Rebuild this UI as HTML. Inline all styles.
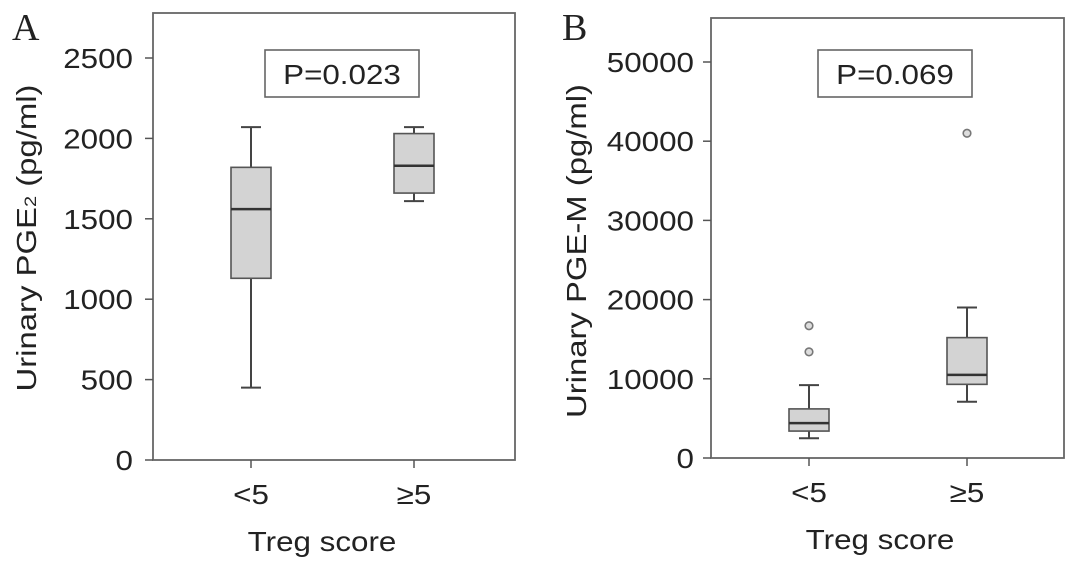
<!DOCTYPE html>
<html><head><meta charset="utf-8"><style>
html,body{margin:0;padding:0;background:#fff;}
svg{display:block;font-family:"Liberation Sans",Arial,sans-serif;}
</style></head><body>
<svg id="chart" width="1078" height="570" viewBox="0 0 1078 570"></svg>
<script>
const categories = ["<5", "\u22655"];
const aMin = [450, 1610];
const aQ1 = [1130, 1660];
const aMed = [1560, 1830];
const aQ3 = [1820, 2030];
const aMax = [2070, 2070];
const aOutliers = [[], []];
const aTicks = [0, 500, 1000, 1500, 2000, 2500];
const bMin = [2500, 7100];
const bQ1 = [3400, 9300];
const bMed = [4400, 10500];
const bQ3 = [6200, 15200];
const bMax = [9200, 19000];
const bOutliers = [[13400, 16700], [41000]];
const bTicks = [0, 10000, 20000, 30000, 40000, 50000];

const NS = "http://www.w3.org/2000/svg";
const svg = document.getElementById("chart");
function mk(tag, attrs, parent, text) {
  const e = document.createElementNS(NS, tag);
  for (const k in attrs) e.setAttribute(k, attrs[k]);
  if (text !== undefined) e.textContent = text;
  (parent || svg).appendChild(e);
  return e;
}
const SX = 1.12;
function stext(parent, x, y, anchor, size, str) {
  return mk("text", {x: 0, y: 0, "text-anchor": anchor, "font-size": size, fill: "#222", transform: "translate(" + x + "," + y + ") scale(" + SX + ",1)"}, parent, str);
}

function panel(cfg) {
  const g = mk("g", {});
  
  
  const y = v => cfg.y0 - v / cfg.vmax * (cfg.y0 - cfg.yTopTick);
  const x = i => cfg.cx[i];
  const fr = mk("rect", {x: cfg.x0, y: cfg.top, width: cfg.x1 - cfg.x0, height: cfg.y0 - cfg.top, fill: "none", stroke: "#666", "stroke-width": 1.8}, g);
  
  
  cfg.ticks.forEach(t => {
    const tl = mk("line", {x1: cfg.x0 - 8, x2: cfg.x0, y1: y(t), y2: y(t), stroke: "#555", "stroke-width": 1.5}, g);
    
    
    const tx = stext(g, cfg.labelRight, y(t) + 10, "end", 28, String(t));
    
    
  });
  categories.forEach((c, i) => {
    const tl = mk("line", {x1: x(i), x2: x(i), y1: cfg.y0, y2: cfg.y0 + 8, stroke: "#555", "stroke-width": 1.5}, g);
    
    
    const tx = stext(g, x(i), cfg.y0 + 44, "middle", 28, c);
    
    
    const hw = cfg.bw / 2, cw = cfg.capw / 2;
    const wl = mk("line", {x1: x(i), x2: x(i), y1: y(cfg.max[i]), y2: y(cfg.q3[i]), stroke: "#444", "stroke-width": 2}, g);
    
    
    const wl2 = mk("line", {x1: x(i), x2: x(i), y1: y(cfg.q1[i]), y2: y(cfg.min[i]), stroke: "#444", "stroke-width": 2}, g);
    
    
    const c1 = mk("line", {x1: x(i) - cw, x2: x(i) + cw, y1: y(cfg.max[i]), y2: y(cfg.max[i]), stroke: "#444", "stroke-width": 2}, g);
    
    
    const c2 = mk("line", {x1: x(i) - cw, x2: x(i) + cw, y1: y(cfg.min[i]), y2: y(cfg.min[i]), stroke: "#444", "stroke-width": 2}, g);
    
    
    const b = mk("rect", {x: x(i) - hw, y: y(cfg.q3[i]), width: cfg.bw, height: y(cfg.q1[i]) - y(cfg.q3[i]), fill: "#d3d3d3", stroke: "#555", "stroke-width": 1.6}, g);
    
    
    const m = mk("line", {x1: x(i) - hw, x2: x(i) + hw, y1: y(cfg.med[i]), y2: y(cfg.med[i]), stroke: "#333", "stroke-width": 2.5}, g);
    
    
    cfg.out[i].forEach(v => {
      const o = mk("circle", {cx: x(i), cy: y(v), r: 3.8, fill: "#ddd", stroke: "#777", "stroke-width": 1.6}, g);
      
      
    });
  });
  const pb = mk("rect", {x: cfg.px, y: 50, width: 154, height: 47, fill: "#fff", stroke: "#666", "stroke-width": 1.6}, g);
  
  
  const pt = stext(g, cfg.px + 77, 84, "middle", 28, cfg.ptext);
  
  
  const xt = stext(g, cfg.xtx, cfg.y0 + 91, "middle", 28, "Treg score");
  
  
  const yt = mk("text", {x: 0, y: 0, "text-anchor": "middle", "font-size": 28, fill: "#222", textLength: cfg.ylen, lengthAdjust: "spacingAndGlyphs", transform: "translate(" + cfg.ytx + "," + cfg.yty + ") rotate(-90)"}, g);
  
  
  cfg.ytitle(yt);
  const pl = mk("text", {x: cfg.letterX, y: 40, "font-size": 38, fill: "#222", "font-family": "Liberation Serif, serif"}, g, cfg.letter);
  
  
}

panel({name: "panel-a", x0: 153, x1: 515, top: 13, y0: 460, yTopTick: 58, vmax: 2500, ticks: aTicks,
  cx: [251, 414], bw: 40, capw: 20, min: aMin, q1: aQ1, med: aMed, q3: aQ3, max: aMax, out: aOutliers,
  labelRight: 133, px: 265, ptext: "P=0.023", xtx: 322, ytx: 36, yty: 238, ylen: 307, letter: "A", letterX: 12,
  ytitle: t => { t.appendChild(document.createTextNode("Urinary PGE")); mk("tspan", {"font-size": 17}, t, "2"); t.appendChild(document.createTextNode(" (pg/ml)")); }});
panel({name: "panel-b", x0: 711, x1: 1064, top: 18, y0: 458, yTopTick: 62, vmax: 50000, ticks: bTicks,
  cx: [809, 967], bw: 40, capw: 20, min: bMin, q1: bQ1, med: bMed, q3: bQ3, max: bMax, out: bOutliers,
  labelRight: 694, px: 818, ptext: "P=0.069", xtx: 880, ytx: 586, yty: 251, ylen: 334, letter: "B", letterX: 562,
  ytitle: t => { t.textContent = "Urinary PGE-M (pg/ml)"; }});
</script>
</body></html>
